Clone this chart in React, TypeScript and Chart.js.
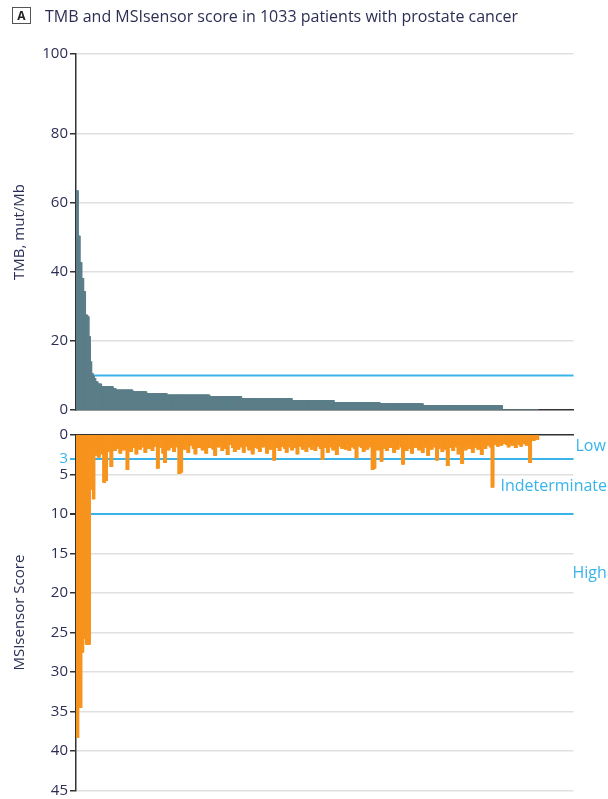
import React, { useEffect, useRef } from 'react';
import { Chart, registerables } from 'chart.js';

Chart.register(...registerables);

const FONT = '"Open Sans", "DejaVu Sans", sans-serif';
const TEXT = '#2c2f55';
const BLUE = '#38b4ea';
const GRID = '#e0e0e0';
const AXIS = '#333333';
const TMB_COLOR = '#5b7e89';
const MSI_COLOR = '#f7941e';

// x axis: patients ranked by TMB (1033), axis runs a little past the last patient
const PATIENT_COUNT = 1033;
const X_AXIS_MAX = 1112;

// TMB (mut/Mb): sorted levels and how many patients sit on each level
const tmbLevels = [63.5, 50.4, 42.7, 38.2, 34.3, 27.5, 27, 21.3, 14, 10.6, 9.8, 9.2, 8.2, 7.5, 6.8, 6.3, 5.8, 5.3, 4.8, 4.35, 3.9, 3.3, 2.7, 2.2, 1.8, 1.25, 0];
const tmbCounts = [4, 4, 4, 4, 4, 5, 3, 3, 3, 3, 3, 3, 5, 8, 26, 6, 38, 31, 45, 96, 71, 113, 94, 102, 97, 177, 81];
const tmbTicks = [0, 20, 40, 60, 80];
const TMB_AXIS_TOP = 103.2; // the top tick of the reference, printed "100"
const TMB_TOP_LABEL = '100';
const TMB_THRESHOLD = 10;

// MSIsensor score: first patients one by one (levels x counts)
const msiHeadLevels = [38.3, 34.5, 27.5, 25.8, 21, 26.5, 6.9, 2.5, 8.1];
const msiHeadCounts = [5, 7, 4, 3, 3, 9, 3, 4, 3];
// remaining patients, read in groups of 4 patients
const MSI_BIN = 4;
const msiTail = [
  2.6, 2.2, 2.8, 2.0, 2.4, 6.0, 5.8, 2.1, 1.8, 4.0,
  1.4, 2.0, 1.1, 1.7, 2.3, 1.2, 1.9, 1.5, 4.4, 1.3,
  2.1, 1.0, 1.6, 2.4, 1.3, 1.8, 0.9, 1.5, 2.2, 1.2,
  1.7, 1.1, 2.0, 1.4, 0.8, 4.2, 1.6, 1.2, 2.3, 3.5,
  1.3, 1.9, 1.0, 1.6, 2.1, 1.2, 1.5, 4.9, 4.7, 1.4,
  1.8, 1.1, 2.2, 1.3, 0.9, 1.7, 2.4, 1.2, 1.6, 1.0,
  1.9, 1.4, 2.3, 1.1, 1.6, 0.8, 1.8, 2.6, 1.3, 1.5,
  1.0, 2.0, 1.4, 1.7, 2.5, 1.2, 0.9, 1.6, 2.1, 1.3,
  1.8, 1.1, 1.5, 2.2, 0.8, 1.4, 1.9, 1.2, 2.4, 1.6,
  1.0, 1.7, 2.1, 1.3, 1.5, 0.9, 2.3, 1.4, 1.8, 1.1,
  3.2, 1.6, 1.2, 2.0, 1.4, 0.8, 1.7, 2.2, 1.3, 1.5,
  1.9, 1.1, 1.6, 2.4, 1.0, 1.4, 1.8, 1.2, 2.1, 0.9,
  1.5, 1.8, 1.2, 2.0, 1.4, 1.1, 1.7, 3.1, 1.3, 1.6,
  2.2, 1.0, 1.5, 1.9, 1.2, 2.5, 1.4, 0.9, 1.7, 1.3,
  1.8, 1.1, 2.0, 1.5, 1.2, 1.7, 2.9, 1.4, 1.0, 1.6,
  2.1, 1.3, 1.8, 1.1, 1.5, 4.4, 4.2, 1.2, 1.9, 1.4,
  3.3, 1.7, 1.1, 2.0, 1.4, 1.6, 0.9, 2.2, 1.3, 1.8,
  1.2, 1.5, 3.7, 1.4, 2.0, 1.1, 1.7, 2.3, 1.3, 1.6,
  1.0, 1.9, 1.4, 2.2, 1.2, 1.6, 2.6, 1.3, 1.8, 1.1,
  1.5, 3.2, 1.7, 1.2, 2.1, 1.4, 1.8, 3.9, 1.3, 1.6,
  2.0, 1.1, 1.5, 2.4, 1.2, 3.6, 1.4, 1.9, 1.1, 1.7,
  1.3, 2.2, 1.6, 1.0, 1.8, 1.4, 2.5, 1.2, 1.7, 1.3,
  1.1, 1.5, 6.6, 1.2, 1.0, 1.4, 0.8, 1.3, 1.1, 0.9,
  1.2, 1.5, 0.9, 1.3, 1.0, 1.6, 0.8, 1.2, 1.4, 0.9,
  1.1, 1.3, 0.8, 3.5, 0.6, 0.7, 0.5, 0.6,
];
const msiTicks = [0, 3, 5, 10, 15, 20, 25, 30, 35, 40, 45];
const MSI_MAX = 45;
const msiThresholds = [3, 10];
const msiZoneLabels = ['Low', 'Indeterminate', 'High'];
const msiZoneValues = [1.5, 6.5, 17.5];

function expandRuns(levels: number[], counts: number[]): number[] {
  const out: number[] = [];
  levels.forEach((v, i) => {
    for (let k = 0; k < counts[i]; k++) out.push(v);
  });
  return out;
}

const tmbValues = expandRuns(tmbLevels, tmbCounts).slice(0, PATIENT_COUNT);
const msiValues = [
  ...expandRuns(msiHeadLevels, msiHeadCounts),
  ...msiTail.flatMap((v) => Array(MSI_BIN).fill(v)),
].slice(0, PATIENT_COUNT);

const toPoints = (vals: number[]) => vals.map((y, x) => ({ x, y }));

const xScale = (position: 'bottom' | 'top') => ({
  type: 'linear' as const,
  position,
  min: -0.5,
  max: X_AXIS_MAX - 0.5,
  offset: false,
  ticks: { display: false },
  grid: { display: false },
  border: { display: true, color: AXIS, width: 1.5 },
  afterFit: (s: any) => {
    s.height = 0;
  },
});

function topConfig(): any {
  return {
    type: 'bar',
    data: {
      datasets: [
        {
          data: toPoints(tmbValues),
          backgroundColor: TMB_COLOR,
          borderWidth: 0,
          barThickness: 2,
        },
      ],
    },
    options: {
      animation: false,
      responsive: false,
      devicePixelRatio: 1,
      events: [],
      layout: { padding: { top: 54, bottom: 12, left: 0, right: 34.5 } },
      plugins: { legend: { display: false }, tooltip: { enabled: false } },
      scales: {
        x: xScale('bottom'),
        y: {
          min: 0,
          max: TMB_AXIS_TOP,
          afterBuildTicks: (s: any) => {
            s.ticks = [...tmbTicks, TMB_AXIS_TOP].map((value) => ({ value }));
          },
          afterFit: (s: any) => {
            s.width = 76;
          },
          ticks: {
            color: TEXT,
            font: { family: FONT, size: 15, lineHeight: 1 },
            padding: 2,
            callback: (v: number) => (v === TMB_AXIS_TOP ? TMB_TOP_LABEL : String(v)),
          },
          grid: {
            color: (c: any) => (c.tick && c.tick.value === 0 ? 'rgba(0,0,0,0)' : GRID),
            lineWidth: 1.5,
            tickColor: AXIS,
            tickLength: 6,
          },
          border: { display: true, color: AXIS, width: 1.5 },
          title: {
            display: true,
            text: 'TMB, mut/Mb',
            color: TEXT,
            font: { family: FONT, size: 15, lineHeight: 1.2 },
            padding: { top: 11, bottom: 0 },
          },
        },
      },
    },
    plugins: [
      {
        id: 'tmbThreshold',
        beforeDatasetsDraw(chart: any) {
          const { ctx, chartArea, scales } = chart;
          const y = scales.y.getPixelForValue(TMB_THRESHOLD);
          ctx.save();
          ctx.strokeStyle = BLUE;
          ctx.lineWidth = 2;
          ctx.beginPath();
          ctx.moveTo(chartArea.left, y);
          ctx.lineTo(chartArea.right, y);
          ctx.stroke();
          ctx.restore();
        },
      },
    ],
  };
}

function bottomConfig(): any {
  return {
    type: 'bar',
    data: {
      datasets: [
        {
          data: toPoints(msiValues),
          backgroundColor: MSI_COLOR,
          borderWidth: 0,
          barThickness: 2,
        },
      ],
    },
    options: {
      animation: false,
      responsive: false,
      devicePixelRatio: 1,
      events: [],
      layout: { padding: { top: 13, bottom: 7, left: 0, right: 34.5 } },
      plugins: { legend: { display: false }, tooltip: { enabled: false } },
      scales: {
        x: xScale('top'),
        y: {
          reverse: true,
          min: 0,
          max: MSI_MAX,
          afterBuildTicks: (s: any) => {
            s.ticks = msiTicks.map((value) => ({ value }));
          },
          afterFit: (s: any) => {
            s.width = 76;
          },
          ticks: {
            color: (c: any) => (c.tick && c.tick.value === 3 ? BLUE : TEXT),
            font: { family: FONT, size: 15, lineHeight: 0.9 },
            padding: 2,
          },
          grid: {
            color: (c: any) => {
              const v = c.tick ? c.tick.value : -1;
              if (v === 0) return 'rgba(0,0,0,0)';
              return msiThresholds.includes(v) ? BLUE : GRID;
            },
            lineWidth: (c: any) => (c.tick && msiThresholds.includes(c.tick.value) ? 2 : 1.5),
            tickColor: (c: any) => (c.tick && c.tick.value === 3 ? BLUE : AXIS),
            tickLength: 6,
          },
          border: { display: true, color: AXIS, width: 1.5 },
          title: {
            display: true,
            text: 'MSIsensor Score',
            color: TEXT,
            font: { family: FONT, size: 15, lineHeight: 1.2 },
            padding: { top: 11, bottom: 0 },
          },
        },
      },
    },
    plugins: [
      {
        id: 'msiZones',
        afterDraw(chart: any) {
          const { ctx, chartArea, scales } = chart;
          const xs = [chartArea.right + 2, chartArea.right - 73, chartArea.right - 1];
          ctx.save();
          ctx.font = `16px ${FONT}`;
          ctx.fillStyle = BLUE;
          ctx.textBaseline = 'middle';
          msiZoneLabels.forEach((t, i) => {
            ctx.fillText(t, xs[i], scales.y.getPixelForValue(msiZoneValues[i]));
          });
          ctx.restore();
        },
      },
    ],
  };
}

export default function App() {
  const topRef = useRef<HTMLCanvasElement>(null);
  const botRef = useRef<HTMLCanvasElement>(null);

  useEffect(() => {
    const c1 = new Chart(topRef.current as HTMLCanvasElement, topConfig());
    const c2 = new Chart(botRef.current as HTMLCanvasElement, bottomConfig());
    return () => {
      c1.destroy();
      c2.destroy();
    };
  }, []);

  return (
    <div
      style={{
        position: 'absolute',
        left: 0,
        top: 0,
        width: 608,
        height: 799,
        background: '#fff',
        overflow: 'hidden',
      }}
    >
      <canvas
        ref={topRef}
        width={608}
        height={422}
        style={{ position: 'absolute', left: 0, top: 0, width: 608, height: 422 }}
      />
      <canvas
        ref={botRef}
        width={608}
        height={377}
        style={{ position: 'absolute', left: 0, top: 422, width: 608, height: 377 }}
      />
      <div
        style={{
          position: 'absolute',
          left: 12,
          top: 7,
          width: 17,
          height: 15,
          border: '1.5px solid #555',
          font: `bold 12px ${FONT}`,
          color: '#222',
          lineHeight: '15px',
          textAlign: 'center',
        }}
      >
        A
      </div>
      <div
        style={{
          position: 'absolute',
          left: 45,
          top: 5,
          font: `16px ${FONT}`,
          color: TEXT,
          whiteSpace: 'nowrap',
        }}
      >
        TMB and MSIsensor score in 1033 patients with prostate cancer
      </div>
    </div>
  );
}
